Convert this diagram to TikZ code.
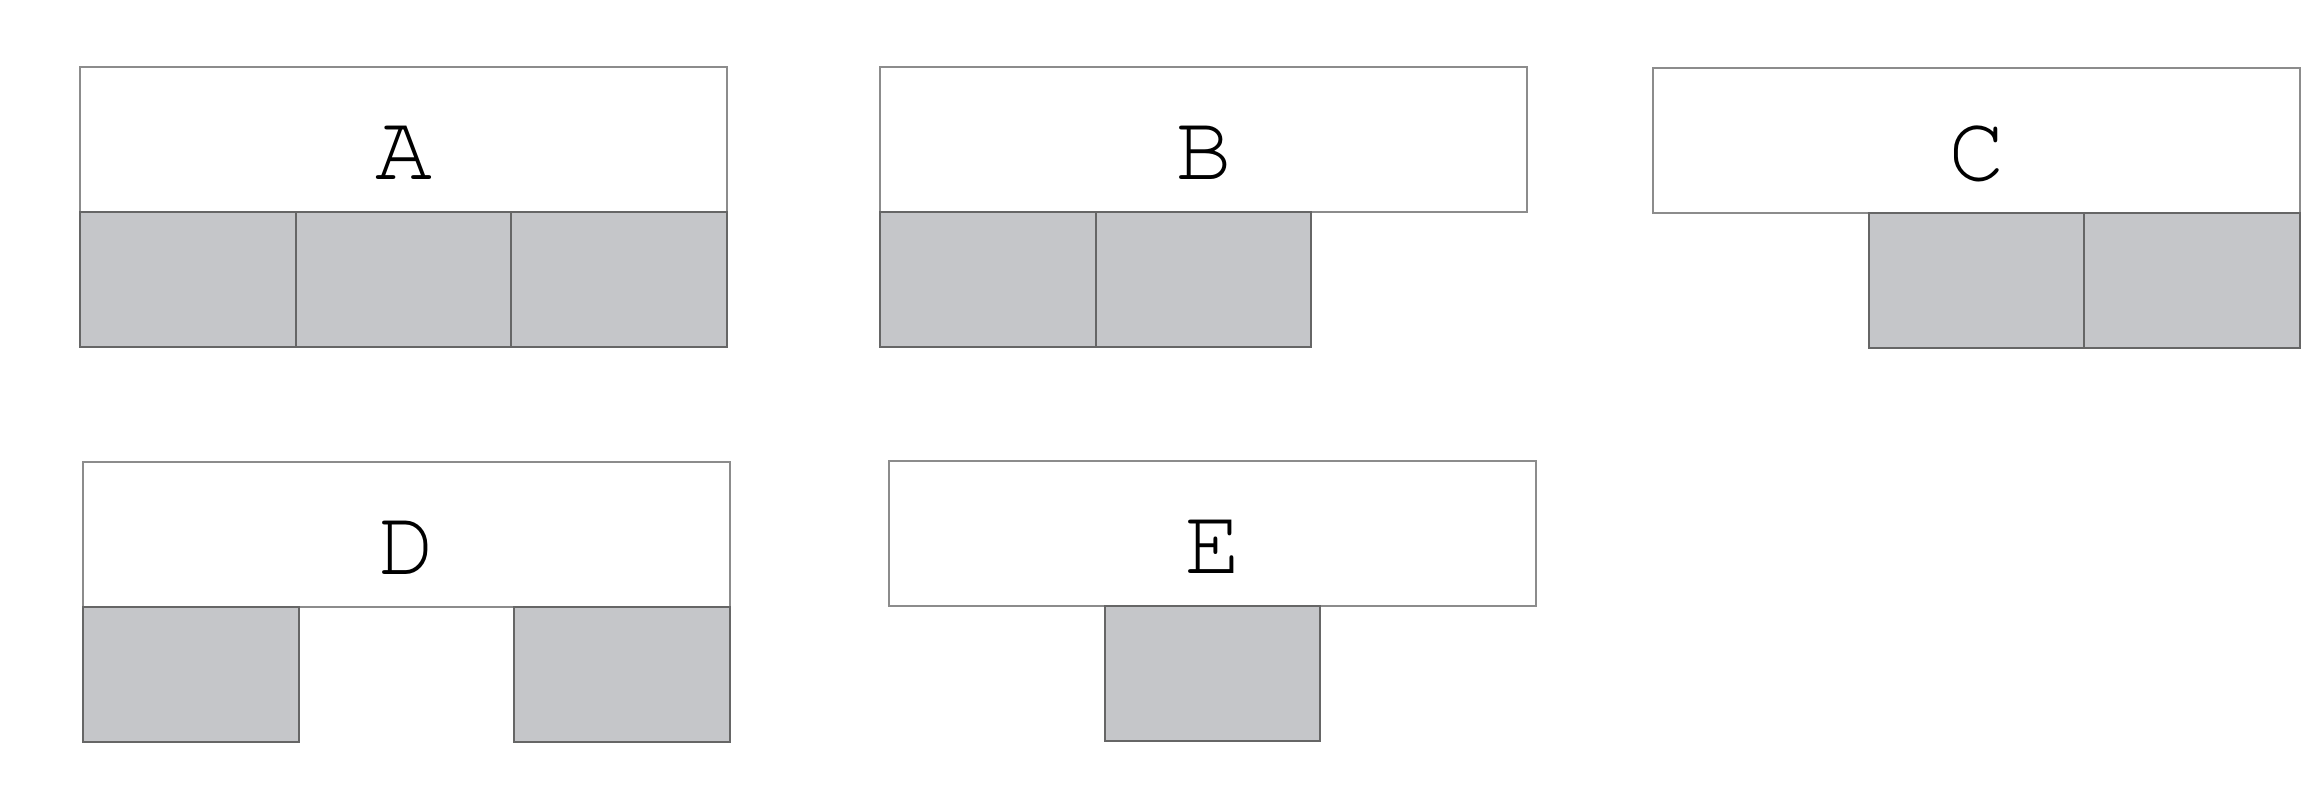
\documentclass[tikz,border=0pt]{standalone}
\usepackage{fontspec}
\setmonofont{TeX Gyre Cursor}
\usetikzlibrary{positioning}
\definecolor{slotgray}{RGB}{197,198,201}
\definecolor{barline}{RGB}{140,140,140}
\begin{document}
\begin{tikzpicture}[
    bar/.style={rectangle, draw=barline, fill=white, line width=0.5pt, minimum width=6.47cm, minimum height=1.45cm, inner sep=0pt, outer sep=0pt, text height=0.80cm, text depth=0pt, font=\ttfamily\fontsize{27}{27}\selectfont, anchor=north west},
    slot/.style={rectangle, draw=black!60, fill=slotgray, line width=0.6pt, minimum width=2.157cm, minimum height=1.35cm, inner sep=0pt, outer sep=0pt, anchor=north west}
]
    \useasboundingbox (0,0) rectangle (23.22,8.08);

    % upper row
    \node[bar] (A) at (0.80,7.41) {A};
    \node[bar] (B) at (8.80,7.41) {B};
    \node[bar] (C) at (16.53,7.40) {C};

    \node[slot] (A1) at (A.south west) {};
    \node[slot, right=0 of A1] (A2) {};
    \node[slot, right=0 of A2] (A3) {};

    \node[slot] (B1) at (B.south west) {};
    \node[slot, right=0 of B1] (B2) {};

    \node[slot, anchor=north east] (C2) at (C.south east) {};
    \node[slot, left=0 of C2] (C1) {};

    % lower row
    \node[bar] (D) at (0.83,3.46) {D};
    \node[bar] (E) at (8.89,3.47) {E};

    \node[slot] (D1) at (D.south west) {};
    \node[slot, anchor=north east] (D2) at (D.south east) {};

    \node[slot, anchor=north] (E1) at (E.south) {};
\end{tikzpicture}
\end{document}
